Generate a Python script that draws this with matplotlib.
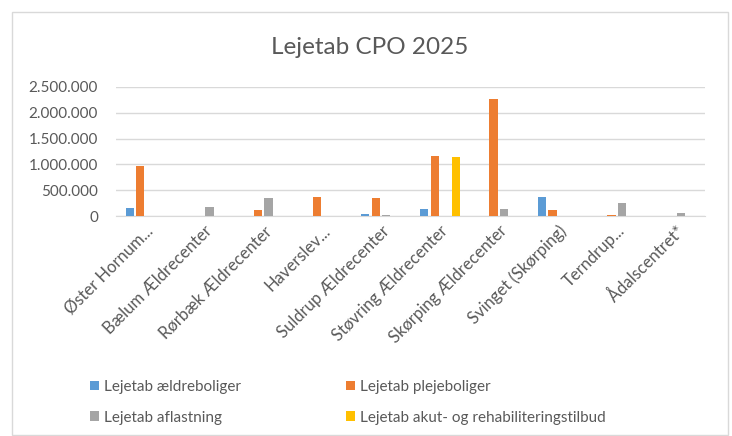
import matplotlib
matplotlib.use("Agg")
import matplotlib.pyplot as plt
import matplotlib.patches as mpatches
from matplotlib.ticker import FuncFormatter
import numpy as np

plt.rcParams['font.family'] = ['Lato', 'DejaVu Sans']

# data
places = ["Øster Hornum...", "Bælum Ældrecenter", "Rørbæk Ældrecenter", "Haverslev...",
          "Suldrup Ældrecenter", "Støvring Ældrecenter", "Skørping Ældrecenter",
          "Svinget (Skørping)", "Terndrup...", "Ådalscentret*"]
aeldreboliger = [150000, 0, 0, 0, 35000, 145000, 0, 370000, 0, 0]
plejeboliger = [970000, 0, 125000, 370000, 340000, 1160000, 2260000, 115000, 10000, 0]
aflastning = [0, 175000, 340000, 0, 25000, 0, 145000, 0, 255000, 60000]
akut = [0, 0, 0, 0, 0, 1150000, 0, 0, 0, 0]

series = [("Lejetab ældreboliger", aeldreboliger, "#5B9BD5"),
          ("Lejetab plejeboliger", plejeboliger, "#ED7D31"),
          ("Lejetab aflastning", aflastning, "#A5A5A5"),
          ("Lejetab akut- og rehabiliteringstilbud", akut, "#FFC000")]
yticks = [0, 500000, 1000000, 1500000, 2000000, 2500000]

W, H = 732, 436
fig = plt.figure(figsize=(W / 100, H / 100), dpi=100)
fig.patch.set_facecolor("white")

# chart frame
fig.patches.append(mpatches.Rectangle((12 / W, 1 - 435 / H), 716 / W, 423 / H,
                                      transform=fig.transFigure, fill=False,
                                      edgecolor="#D9D9D9", linewidth=1))

ax = fig.add_axes([116 / W, 1 - 216 / H, 589 / W, 129 / H])
x = np.arange(len(places))
step = 0.178
bars = []
for i, (name, vals, col) in enumerate(series):
    b = ax.bar(x + (i - 1.5) * step, vals, width=0.14, color=col, label=name, zorder=3)
    bars.append(b)

ax.set_xlim(-0.5, len(places) - 0.5)
ax.set_ylim(0, 2500000)
ax.set_yticks(yticks)
ax.yaxis.set_major_formatter(FuncFormatter(lambda v, p: f"{int(v):,}".replace(",", ".")))
ax.grid(axis="y", color="#D9D9D9", linewidth=1, zorder=0)
for s in ["top", "right", "left"]:
    ax.spines[s].set_visible(False)
ax.spines["bottom"].set_color("#D9D9D9")
ax.tick_params(axis="both", length=0, colors="#595959", labelsize=11)
ax.tick_params(axis="y", pad=13)
ax.set_xticks(x)
ax.set_xticklabels(places, rotation=45, ha="right", rotation_mode="anchor",
                   fontsize=12, color="#595959")
ax.tick_params(axis="x", pad=5)

fig.text(0.505, 1 - 47 / H, "Lejetab CPO 2025", ha="center", va="center",
         fontsize=17.5, color="#595959")

# legend: two columns, row order like the reference
order = [0, 2, 1, 3]
fig.legend([bars[k] for k in order], [series[k][0] for k in order],
           ncol=2, loc="upper left", bbox_to_anchor=(76 / W, 1 - 366 / H),
           frameon=False, handlelength=0.6, handleheight=0.6, handletextpad=0.3,
           columnspacing=6.9, labelspacing=1.1, fontsize=11, labelcolor="#595959")

fig.savefig("out.png", dpi=100, facecolor="white")
